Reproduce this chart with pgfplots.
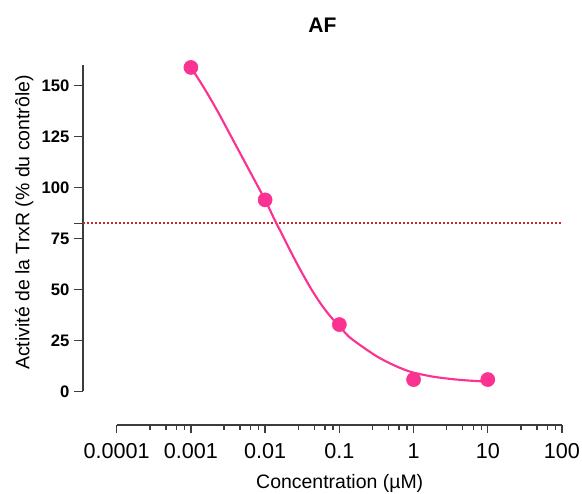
\documentclass[border=0pt]{standalone}
\usepackage{pgfplots}
\pgfplotsset{compat=1.18}
\usepackage{fontspec}
\setmainfont{Liberation Sans}
\definecolor{curvepink}{RGB}{250,50,145}
\definecolor{refred}{RGB}{200,40,40}
\definecolor{axgray}{RGB}{60,60,60}
\begin{document}
\begin{tikzpicture}
\useasboundingbox (0,0) rectangle (436.5pt,369.75pt);
% y axis
\begin{axis}[
  at={(62.25pt,76.3pt)}, anchor=south west,
  scale only axis, width=10pt, height=244.7pt,
  xmin=0, xmax=1, ymin=0, ymax=160.2,
  axis y line=left, axis x line=none,
  y axis line style={-, line width=1pt, draw=axgray},
  every tick/.style={line width=1pt, draw=axgray},
  tick align=outside, major tick length=6.75pt,
  ytick={0,25,50,75,100,125,150},
  extra y ticks={82.5}, extra y tick labels={},
  /pgf/number format/assume math mode=true,
  yticklabel style={anchor=east, inner sep=0pt, xshift=-3.25pt,
    font=\bfseries\fontsize{12.5}{15}\selectfont},
]
\end{axis}
% x axis and data
\begin{axis}[
  at={(87.5pt,51pt)}, anchor=south west,
  scale only axis, width=334pt, height=270pt,
  xmode=log, xmin=1e-4, xmax=100, ymin=-16.5, ymax=160.2,
  axis x line=bottom, axis y line=none,
  x axis line style={-, line width=1pt, draw=axgray},
  every tick/.style={line width=1pt, draw=axgray},
  tick align=outside, major tick length=6pt, minor tick length=3.5pt,
  xtick={1e-4,1e-3,1e-2,1e-1,1,10,100},
  xticklabels={0.0001,0.001,0.01,0.1,1,10,100},
  minor xtick={2.8e-4,4.6e-4,6.4e-4,8.2e-4,
               2.8e-3,4.6e-3,6.4e-3,8.2e-3,
               2.8e-2,4.6e-2,6.4e-2,8.2e-2,
               2.8e-1,4.6e-1,6.4e-1,8.2e-1,
               2.8,4.6,6.4,8.2,
               28,46,64,82},
  /pgf/number format/assume math mode=true,
  xticklabel style={anchor=north, inner sep=0pt, yshift=-7.5pt,
    font=\fontsize{16.2}{19}\selectfont},
  clip=false,
]
\addplot[refred, line width=1.3pt, dash pattern=on 1.5pt off 1.5pt]
  coordinates {(3.515e-5,82.5) (100,82.5)};
\addplot[curvepink, line width=1.6pt, smooth, tension=0.5]
  coordinates {(0.001,159) (0.0013335,152) (0.0017783,144.5) (0.0023714,136.5)
   (0.0031623,128) (0.004217,119.5) (0.0056234,111) (0.0074989,102.5)
   (0.01,94) (0.013335,84.5) (0.017783,75.5) (0.023714,66.5)
   (0.031623,58) (0.04217,50) (0.056234,43) (0.074989,37)
   (0.1,32) (0.13335,27) (0.17783,23.5) (0.23714,20.3)
   (0.31623,17.3) (0.4217,14.8) (0.56234,12.6) (0.74989,10.7)
   (1,9.2) (1.7783,7.3) (3.1623,6.1) (5.6234,5.3) (10,4.8)};
\addplot[only marks, mark=*, mark size=5.3pt, curvepink, mark options={draw=curvepink, fill=curvepink}]
  coordinates {(0.001,159) (0.01,94) (0.1,32.8) (1,5.8) (10,5.8)};
\end{axis}
\node[font=\bfseries\fontsize{15.8}{19}\selectfont] at (241.9pt,350.6pt) {AF};
\node[anchor=base, font=\fontsize{14.6}{17}\selectfont] at (254.8pt,3.5pt) {Concentration (µM)};
\node[anchor=base, rotate=90, font=\fontsize{14.6}{17}\selectfont] at (22pt,202.9pt) {Activité de la TrxR (\% du contrôle)};
\end{tikzpicture}
\end{document}
